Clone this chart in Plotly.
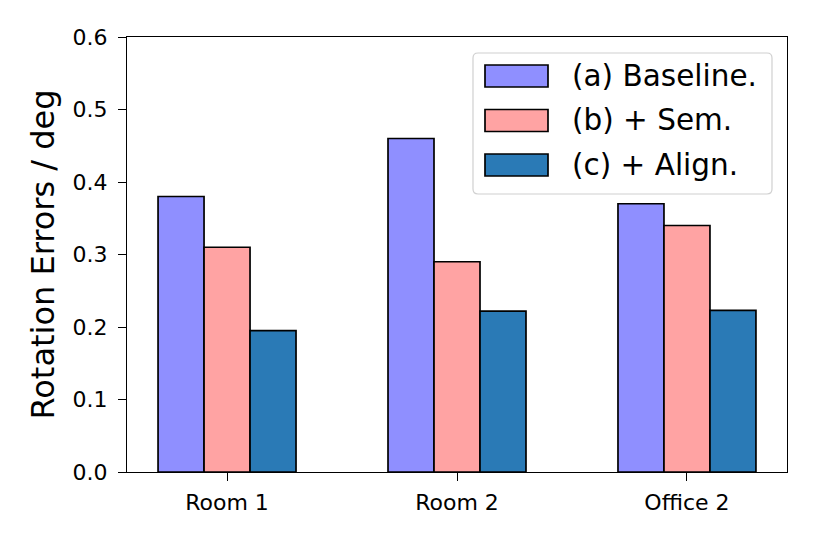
import plotly.graph_objects as go

categories = ["Room 1", "Room 2", "Office 2"]
series_names = ["(a) Baseline.", "(b) + Sem.", "(c) + Align."]
baseline = [0.38, 0.46, 0.37]
sem = [0.31, 0.29, 0.34]
align = [0.195, 0.222, 0.223]
y_ticks = [0.0, 0.1, 0.2, 0.3, 0.4, 0.5, 0.6]

colors = ["#8f8fff", "#ffa3a3", "#2a7ab6"]
values = [baseline, sem, align]

# page has an 8px body margin; figure is sized to fit inside the window
OFF = 8
W, H = 814 - 2 * OFF, 543 - 2 * OFF
# plot area in page pixels
PL, PR, PT, PB = 127, 787, 37, 472
L, T = PL - OFF, PT - OFF
R, B = W - (PR - OFF), H - (PB - OFF)
pw, ph = PR - PL, PB - PT

def px(x):
    return (x - PL) / pw

def py(y):
    return (PB - y) / ph

FONT = "DejaVu Sans"

fig = go.Figure()
for name, vals, col in zip(series_names, values, colors):
    fig.add_trace(go.Bar(
        x=list(range(len(categories))), y=vals, name=name,
        marker=dict(color=col, line=dict(color="black", width=1.7)),
        showlegend=False,
    ))

shapes = []
annotations = []

# legend box with rounded corners (page pixel coords -> paper coords)
x0, y0, x1, y1, r = 473, 53, 772, 194, 5
path = (f"M {px(x0+r)},{py(y0)} L {px(x1-r)},{py(y0)} Q {px(x1)},{py(y0)} {px(x1)},{py(y0+r)} "
        f"L {px(x1)},{py(y1-r)} Q {px(x1)},{py(y1)} {px(x1-r)},{py(y1)} "
        f"L {px(x0+r)},{py(y1)} Q {px(x0)},{py(y1)} {px(x0)},{py(y1-r)} "
        f"L {px(x0)},{py(y0+r)} Q {px(x0)},{py(y0)} {px(x0+r)},{py(y0)} Z")
shapes.append(dict(type="path", xref="paper", yref="paper", path=path,
                   fillcolor="rgba(255,255,255,0.8)", line=dict(color="#d0d0d0", width=1.2)))
row_centers = [76, 120.5, 165]
for name, col, yc in zip(series_names, colors, row_centers):
    shapes.append(dict(type="rect", xref="paper", yref="paper",
                       x0=px(485), x1=px(548), y0=py(yc + 11), y1=py(yc - 11),
                       fillcolor=col, line=dict(color="black", width=1.7)))
    annotations.append(dict(xref="paper", yref="paper", x=px(570), y=py(yc),
                            xanchor="left", yanchor="middle", showarrow=False,
                            text=name, font=dict(family=FONT, size=29.5, color="black")))

annotations.append(dict(xref="paper", yref="paper", x=px(42), y=0.5,
                        xanchor="center", yanchor="middle", showarrow=False,
                        textangle=-90, text="Rotation Errors / deg",
                        font=dict(family=FONT, size=32, color="black")))

fig.update_layout(
    width=W, height=H,
    margin=dict(l=L, r=R, t=T, b=B, pad=0),
    paper_bgcolor="white", plot_bgcolor="white",
    barmode="group", bargap=0.4, bargroupgap=0,
    font=dict(family=FONT, size=22, color="black"),
    shapes=shapes, annotations=annotations,
    xaxis=dict(range=[-0.435, 2.435], tickvals=list(range(len(categories))), ticktext=categories,
               showline=True, mirror=True, linecolor="black", linewidth=1.4,
               ticks="outside", ticklen=8, tickwidth=1.4, tickcolor="black",
               ticklabelstandoff=2,
               showgrid=False, zeroline=False, tickfont=dict(size=22)),
    yaxis=dict(range=[0, 0.6], tickvals=y_ticks, ticktext=[f"{v:.1f}" for v in y_ticks],
               showline=True, mirror=True, linecolor="black", linewidth=1.4,
               ticks="outside", ticklen=8, tickwidth=1.4, tickcolor="black",
               ticklabelstandoff=6,
               showgrid=False, zeroline=False, tickfont=dict(size=22)),
)

fig.write_html("out.html")
